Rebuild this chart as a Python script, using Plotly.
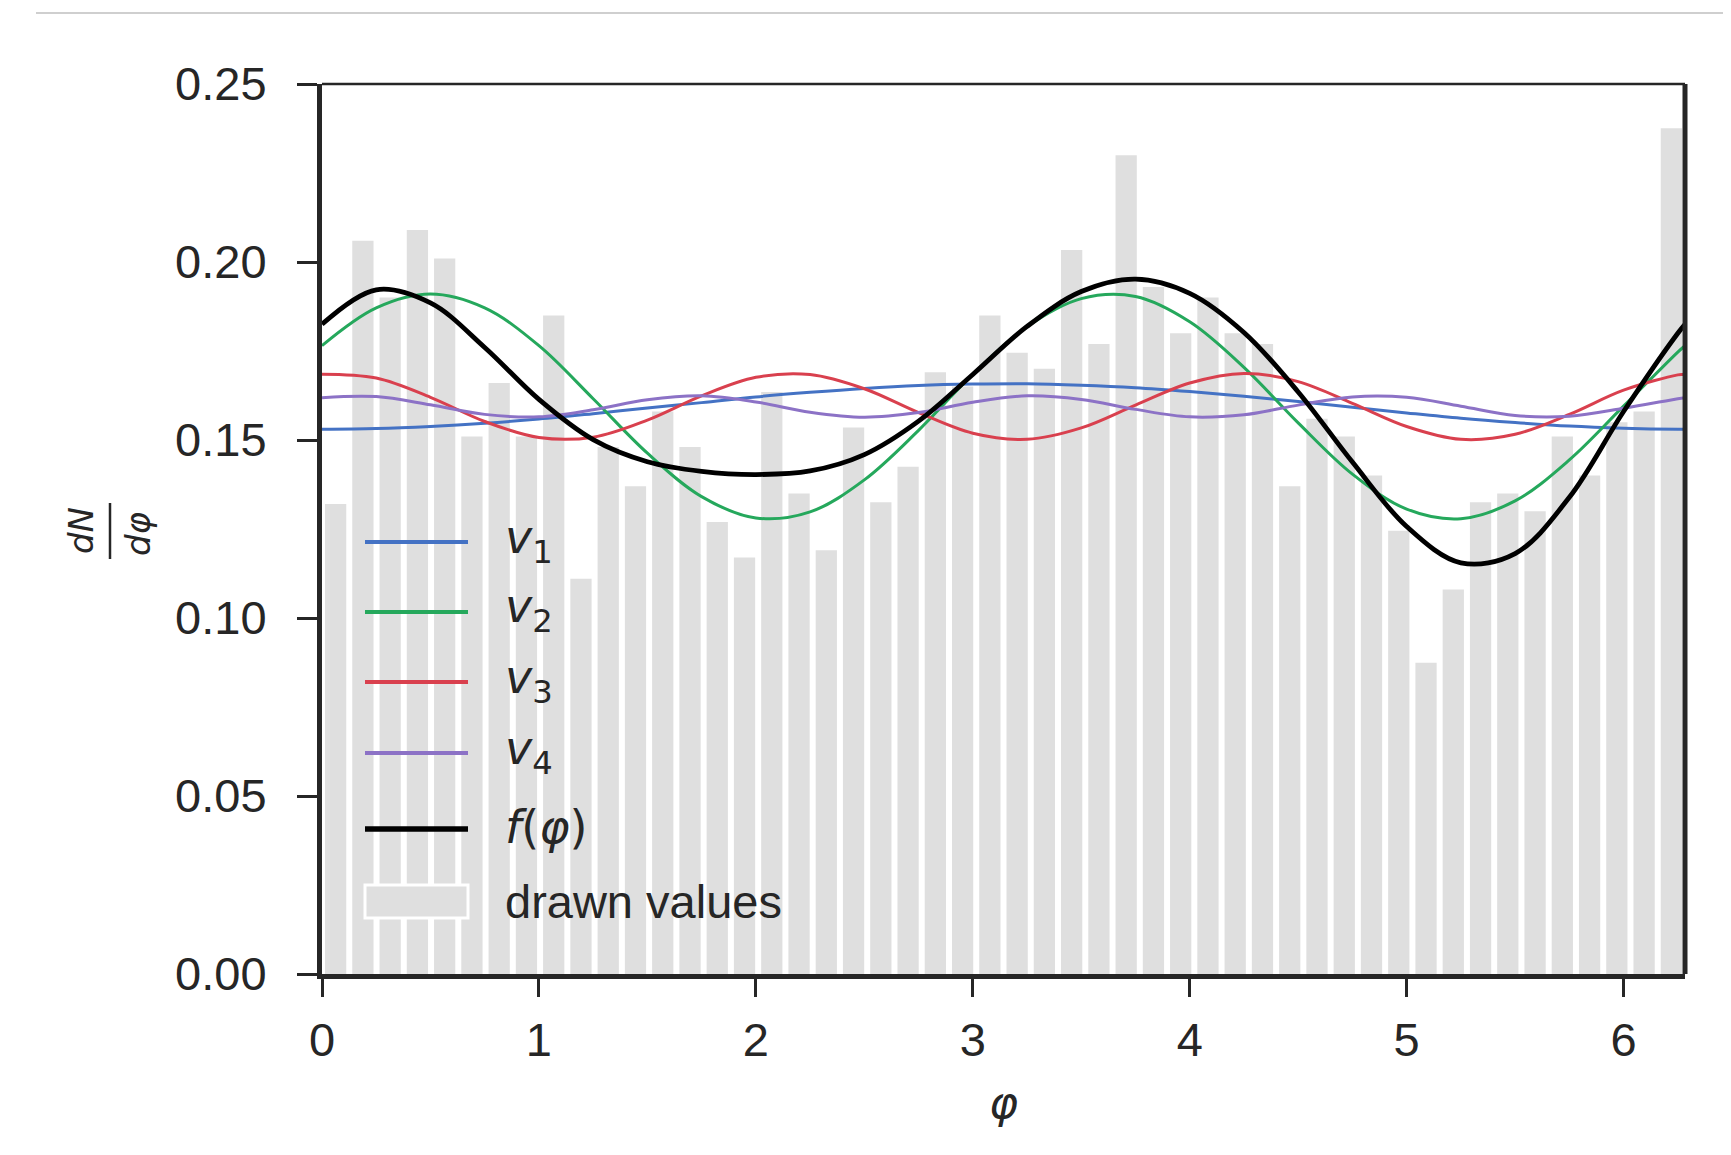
import numpy as np
import plotly.graph_objects as go

# ---------------- data ----------------
N_BINS = 50
PHI_MAX = 2 * np.pi
bin_edges = np.linspace(0, PHI_MAX, N_BINS + 1)
bin_centers = (bin_edges[:-1] + bin_edges[1:]) / 2

drawn_values = [0.132, 0.206, 0.190, 0.209, 0.201, 0.151, 0.166, 0.151, 0.185, 0.111,
                0.148, 0.137, 0.158, 0.148, 0.127, 0.117, 0.1635, 0.135, 0.119, 0.1535,
                0.1325, 0.1425, 0.169, 0.165, 0.185, 0.1745, 0.170, 0.2034, 0.177, 0.230,
                0.193, 0.180, 0.190, 0.180, 0.177, 0.137, 0.156, 0.151, 0.140, 0.1245,
                0.0874, 0.108, 0.1325, 0.135, 0.130, 0.151, 0.140, 0.155, 0.158, 0.2376]

phi = [0.0, 0.25, 0.5, 0.75, 1.0, 1.25, 1.5, 1.75, 2.0, 2.25, 2.5, 2.75, 3.0, 3.25,
       3.5, 3.75, 4.0, 4.25, 4.5, 4.75, 5.0, 5.25, 5.5, 5.75, 6.0, 6.25, 6.2832]

v1 = [0.1530, 0.1532, 0.1538, 0.1547, 0.1559, 0.1574, 0.1590, 0.1605, 0.1621, 0.1634,
      0.1645, 0.1653, 0.1657, 0.1658, 0.1654, 0.1647, 0.1636, 0.1623, 0.1608, 0.1592,
      0.1576, 0.1561, 0.1549, 0.1539, 0.1533, 0.1530, 0.1530]
v2 = [0.1765, 0.1871, 0.1910, 0.1871, 0.1765, 0.1616, 0.1463, 0.1341, 0.1281, 0.1298,
      0.1388, 0.1527, 0.1684, 0.1818, 0.1897, 0.1903, 0.1832, 0.1704, 0.1548, 0.1404,
      0.1306, 0.1279, 0.1329, 0.1444, 0.1595, 0.1747, 0.1765]
v3 = [0.1685, 0.1674, 0.1620, 0.1552, 0.1507, 0.1508, 0.1556, 0.1624, 0.1676, 0.1684,
      0.1644, 0.1577, 0.1519, 0.1502, 0.1534, 0.1598, 0.1660, 0.1687, 0.1664, 0.1603,
      0.1538, 0.1502, 0.1516, 0.1572, 0.1640, 0.1683, 0.1685]
v4 = [0.1619, 0.1622, 0.1599, 0.1572, 0.1565, 0.1585, 0.1613, 0.1624, 0.1607, 0.1578,
      0.1564, 0.1577, 0.1606, 0.1624, 0.1614, 0.1586, 0.1565, 0.1571, 0.1598, 0.1621,
      0.1620, 0.1595, 0.1569, 0.1567, 0.1589, 0.1616, 0.1619]
f_phi = [0.1825, 0.1922, 0.1885, 0.1760, 0.1614, 0.1501, 0.1439, 0.1412, 0.1403, 0.1413,
         0.1459, 0.1553, 0.1684, 0.1819, 0.1917, 0.1952, 0.1912, 0.1802, 0.1635, 0.1438,
         0.1257, 0.1155, 0.1181, 0.1339, 0.1580, 0.1800, 0.1825]

y_ticks = [0.00, 0.05, 0.10, 0.15, 0.20, 0.25]
y_tick_labels = ["0.00", "0.05", "0.10", "0.15", "0.20", "0.25"]
x_ticks = [0, 1, 2, 3, 4, 5, 6]
x_tick_labels = ["0", "1", "2", "3", "4", "5", "6"]

series = [
    ("<i>v</i><sub>1</sub>", v1, "#4472C4", 3.0),
    ("<i>v</i><sub>2</sub>", v2, "#25A85C", 3.0),
    ("<i>v</i><sub>3</sub>", v3, "#D9404E", 3.0),
    ("<i>v</i><sub>4</sub>", v4, "#8C72C6", 3.0),
    ("<i>f</i>(<i>φ</i>)", f_phi, "#000000", 4.8),
]

# ---------------- layout geometry (pixels) ----------------
OFF = 8  # default body margin of the html page
W, H = 1731 - 2 * OFF, 1155 - 2 * OFF
PL, PR, PT, PB = 322, 1685, 84, 974  # plot area in window pixels


def px(x):
    return (x - PL) / (PR - PL)


def py(y):
    return (PB - y) / (PB - PT)


INK = "#262626"
TICK_FONT = dict(family="Liberation Sans, Arial, sans-serif", size=47, color=INK)
MATH_FONT = "DejaVu Sans, sans-serif"

fig = go.Figure()
fig.add_trace(go.Bar(x=bin_centers, y=drawn_values, marker=dict(color="#dfdfdf", line=dict(width=0)),
                     name="drawn values", showlegend=False))
for name, ys, col, lw in series:
    fig.add_trace(go.Scatter(x=phi, y=ys, mode="lines", name=name,
                             line=dict(color=col, width=lw, shape="spline", smoothing=1.0),
                             showlegend=False))

shapes = []
annotations = []

# custom legend
legend_rows = [542, 612, 682, 753, 829]
for (name, ys, col, lw), yrow in zip(series, legend_rows):
    shapes.append(dict(type="line", xref="paper", yref="paper", x0=px(365), x1=px(468),
                       y0=py(yrow), y1=py(yrow), line=dict(color=col, width=lw + 0.8)))
    annotations.append(dict(text=name, xref="paper", yref="paper", x=px(503), y=py(yrow - 2),
                            xanchor="left", yanchor="middle", showarrow=False,
                            font=dict(family=MATH_FONT, size=46, color=INK)))
shapes.append(dict(type="rect", xref="paper", yref="paper", x0=px(365), x1=px(468),
                   y0=py(918), y1=py(885), fillcolor="#dfdfdf", line=dict(color="white", width=3)))
annotations.append(dict(text="drawn values", xref="paper", yref="paper", x=px(503), y=py(901),
                        xanchor="left", yanchor="middle", showarrow=False, font=TICK_FONT))

# top and right spines
shapes.append(dict(type="line", xref="paper", yref="paper", x0=0, x1=1, y0=1, y1=1,
                   line=dict(color=INK, width=2.5)))
shapes.append(dict(type="line", xref="paper", yref="paper", x0=1, x1=1, y0=0, y1=1,
                   line=dict(color=INK, width=5)))
# thin grey rule at the top of the page
shapes.append(dict(type="line", xref="paper", yref="paper", x0=px(36), x1=px(1731 + 20),
                   y0=py(13), y1=py(13), line=dict(color="#cfcfcf", width=2)))

# y label as a fraction dN / dφ
annotations.append(dict(text="<i>dN</i>", xref="paper", yref="paper", x=px(81), y=py(531),
                        xanchor="center", yanchor="middle", textangle=-90, showarrow=False,
                        font=dict(family=MATH_FONT, size=34, color=INK)))
annotations.append(dict(text="<i>dφ</i>", xref="paper", yref="paper", x=px(138), y=py(534),
                        xanchor="center", yanchor="middle", textangle=-90, showarrow=False,
                        font=dict(family=MATH_FONT, size=34, color=INK)))
shapes.append(dict(type="line", xref="paper", yref="paper", x0=px(110), x1=px(110),
                   y0=py(503), y1=py(559), line=dict(color=INK, width=2.5)))
# x label
annotations.append(dict(text="<i>φ</i>", xref="paper", yref="paper", x=px(1003), y=py(1102),
                        xanchor="center", yanchor="middle", showarrow=False,
                        font=dict(family=MATH_FONT, size=44, color=INK)))

fig.update_layout(
    width=W, height=H,
    margin=dict(l=PL - OFF, r=W - (PR - OFF), t=PT - OFF, b=H - (PB - OFF), pad=0),
    paper_bgcolor="white", plot_bgcolor="white",
    bargap=0.22, showlegend=False,
    shapes=shapes, annotations=annotations,
    xaxis=dict(range=[0, PHI_MAX], tickvals=x_ticks, ticktext=x_tick_labels,
               showgrid=False, zeroline=False, showline=True, linecolor=INK, linewidth=5,
               ticks="outside", ticklen=18, tickwidth=2.5, tickcolor=INK,
               tickfont=TICK_FONT, ticklabelstandoff=3),
    yaxis=dict(range=[0, 0.25], tickvals=y_ticks, ticktext=y_tick_labels,
               showgrid=False, zeroline=False, showline=True, linecolor=INK, linewidth=5,
               ticks="outside", ticklen=20, tickwidth=2.5, tickcolor=INK,
               tickfont=TICK_FONT, ticklabelstandoff=21),
)

fig.write_html("out.html")
